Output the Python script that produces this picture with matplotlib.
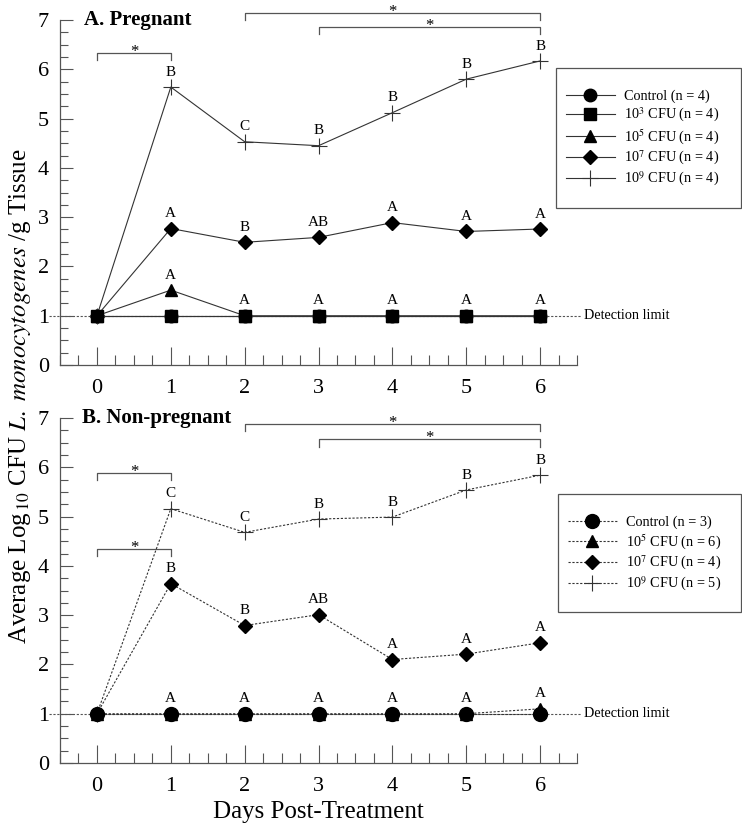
import matplotlib
matplotlib.use("Agg")
import matplotlib.pyplot as plt
from matplotlib.patches import Rectangle
from matplotlib.ticker import MultipleLocator

plt.rcParams['font.family'] = ['Liberation Serif', 'DejaVu Serif']
plt.rcParams['mathtext.fontset'] = 'stix'

days = [0, 1, 2, 3, 4, 5, 6]

# A. Pregnant
preg_control = [1.0, 1.0, 1.0, 1.0, 1.0, 1.0, 1.0]
preg_1e3 = [1.0, 1.0, 1.0, 1.0, 1.0, 1.0, 1.0]
preg_1e5 = [1.0, 1.52, 1.0, 1.0, 1.0, 1.0, 1.0]
preg_1e7 = [1.0, 2.77, 2.49, 2.59, 2.89, 2.71, 2.76]
preg_1e9 = [1.0, 5.64, 4.53, 4.45, 5.12, 5.80, 6.17]
preg_ltr_1e9 = ['', 'B', 'C', 'B', 'B', 'B', 'B']
preg_ltr_1e7 = ['', 'A', 'B', 'AB', 'A', 'A', 'A']
preg_ltr_low = ['', 'A', 'A', 'A', 'A', 'A', 'A']
preg_brackets = [(0, 1, 6.33), (2, 6, 7.15), (3, 6, 6.86)]

# B. Non-pregnant
np_control = [1.0, 1.0, 1.0, 1.0, 1.0, 1.0, 1.0]
np_1e5 = [1.0, 1.0, 1.0, 1.0, 1.0, 1.0, 1.1]
np_1e7 = [1.0, 3.64, 2.79, 3.01, 2.10, 2.21, 2.44]
np_1e9 = [1.0, 5.16, 4.68, 4.95, 4.99, 5.54, 5.84]
np_ltr_1e9 = ['', 'C', 'C', 'B', 'B', 'B', 'B']
np_ltr_1e7 = ['', 'B', 'B', 'AB', 'A', 'A', 'A']
np_ltr_low = ['', 'A', 'A', 'A', 'A', 'A', 'A']
np_brackets = [(0, 1, 5.89), (0, 1, 4.35), (2, 6, 6.88), (3, 6, 6.57)]

lc = '#333333'
gc = '#555555'

fig = plt.figure(figsize=(7.42, 8.24), dpi=100)
ax1 = fig.add_axes([0.0809, 0.557, 0.6968, 0.4187])
ax2 = fig.add_axes([0.0809, 0.074, 0.6968, 0.4187])


def style_axes(ax):
    ax.set_xlim(-0.5, 6.5)
    ax.set_ylim(0, 7)
    for s in ['top', 'right']:
        ax.spines[s].set_visible(False)
    for s in ['left', 'bottom']:
        ax.spines[s].set_color(gc)
        ax.spines[s].set_linewidth(0.9)
    ax.xaxis.set_major_locator(MultipleLocator(1))
    ax.xaxis.set_minor_locator(MultipleLocator(0.25))
    ax.yaxis.set_major_locator(MultipleLocator(1))
    ax.yaxis.set_minor_locator(MultipleLocator(0.25))
    ax.tick_params(axis='x', which='major', direction='in', length=13, width=0.8,
                   color=gc, labelsize=16, pad=10)
    ax.tick_params(axis='x', which='minor', direction='in', length=7, width=0.8, color=gc)
    ax.tick_params(axis='y', which='major', direction='in', length=9, width=0.8,
                   color=gc, labelsize=16, pad=8)
    ax.tick_params(axis='y', which='minor', direction='in', length=6, width=0.8, color=gc)
    # detection limit
    ax.plot([-0.65, 6.55], [1, 1], color=gc, lw=0.8, ls=(0, (2, 1.5)), clip_on=False, zorder=1)
    ax.text(6.6, 1, 'Detection limit', fontsize=10.3, va='center', ha='left')


def brackets(ax, items):
    for x0, x1, y in items:
        ax.plot([x0, x0, x1, x1], [y - 0.15, y, y, y - 0.15], color=gc, lw=0.9, clip_on=False)
        ax.text((x0 + x1) / 2, y - 0.06, '*', ha='center', va='baseline', fontsize=12)


def letters(ax, xs, ys, labels):
    for x, y, t in zip(xs, ys, labels):
        if t:
            ax.annotate(t, (x, y), xytext=(0, 6), textcoords='offset points',
                        ha='center', va='bottom', fontsize=11)


def add_legend(ax, box_px, first_px):
    x0, y0, x1, y1 = box_px
    fig.patches.append(Rectangle((x0 / 742, 1 - y1 / 824), (x1 - x0) / 742, (y1 - y0) / 824,
                                 transform=fig.transFigure, fill=False, edgecolor=gc,
                                 linewidth=0.9))
    ax.legend(loc='upper left', bbox_to_anchor=((x0 + 10) / 742, 1 - first_px / 824),
              bbox_transform=fig.transFigure, fontsize=10.3, handlelength=3.4,
              handletextpad=0.65, borderpad=0, borderaxespad=0,
              labelspacing=0.2, frameon=False)


style_axes(ax1)
ax1.plot(days, preg_control, '-', color=lc, lw=0.8, marker='o', ms=9, mfc='k', mec='k',
         label='Control (n = 4)', zorder=3)
ax1.plot(days, preg_1e3, '-', color=lc, lw=0.8, marker='s', ms=9, mfc='k', mec='k',
         label='10$^3$ CFU (n = 4)', zorder=4)
ax1.plot(days, preg_1e5, '-', color=lc, lw=0.8, marker='^', ms=9, mfc='k', mec='k',
         label='10$^5$ CFU (n = 4)', zorder=3)
ax1.plot(days, preg_1e7, '-', color=lc, lw=0.8, marker='D', ms=7, mfc='k', mec='k',
         label='10$^7$ CFU (n = 4)', zorder=3)
ax1.plot(days, preg_1e9, '-', color=lc, lw=0.8, marker='+', ms=11, mew=0.8, mec=lc,
         label='10$^9$ CFU (n = 4)', zorder=3)
letters(ax1, days, preg_1e9, preg_ltr_1e9)
letters(ax1, days, preg_1e7, preg_ltr_1e7)
letters(ax1, days, [max(a, b) for a, b in zip(preg_1e5, preg_1e3)], preg_ltr_low)
brackets(ax1, preg_brackets)
ax1.text(-0.18, 7.0, 'A. Pregnant', fontsize=15, fontweight='bold', va='center', ha='left')
add_legend(ax1, (556, 68, 741, 208), 90)

style_axes(ax2)
ls2 = (0, (2, 1.5))
ax2.plot(days, np_control, color=lc, ls=ls2, lw=0.8, marker='o', ms=10, mfc='k', mec='k',
         label='Control (n = 3)', zorder=4)
ax2.plot(days, np_1e5, color=lc, ls=ls2, lw=0.8, marker='^', ms=9, mfc='k', mec='k',
         label='10$^5$ CFU (n = 6)', zorder=3)
ax2.plot(days, np_1e7, color=lc, ls=ls2, lw=0.8, marker='D', ms=7, mfc='k', mec='k',
         label='10$^7$ CFU (n = 4)', zorder=3)
ax2.plot(days, np_1e9, color=lc, ls=ls2, lw=0.8, marker='+', ms=11, mew=0.8, mec=lc,
         label='10$^9$ CFU (n = 5)', zorder=3)
letters(ax2, days, np_1e9, np_ltr_1e9)
letters(ax2, days, np_1e7, np_ltr_1e7)
letters(ax2, days, [max(a, b) for a, b in zip(np_1e5, np_control)], np_ltr_low)
brackets(ax2, np_brackets)
ax2.text(-0.2, 7.0, 'B. Non-pregnant', fontsize=15, fontweight='bold', va='center', ha='left')
add_legend(ax2, (558, 494, 741, 612), 516)
ax2.set_xlabel('Days Post-Treatment', fontsize=18, labelpad=4)

fig.text(0.027, 1 - 396 / 824,
         r'Average Log$_{\,10}$ CFU $\mathit{L.\ monocytogenes}$ /g Tissue',
         rotation=90, fontsize=18, va='center', ha='center')

fig.savefig('out.png', dpi=100)
